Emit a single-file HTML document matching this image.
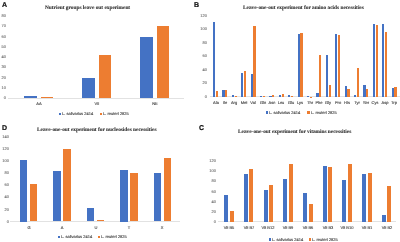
<!DOCTYPE html>
<html><head><meta charset="utf-8"><style>
html,body{margin:0;padding:0;background:#fff;}
body{width:400px;height:242px;position:relative;overflow:hidden;}
#w{position:absolute;left:0;top:0;width:400px;height:242px;}
.t{position:absolute;white-space:nowrap;line-height:1;text-rendering:geometricPrecision;will-change:transform;}
.r{position:absolute;}
</style></head><body><div id="w">
<div class="t" style="left:2.00px;top:4.50px;font-size:7px;color:#111;font-family:'Liberation Sans', sans-serif;font-weight:bold;transform:translate(0,-50%);-webkit-text-stroke:0.2px #111;">A</div>
<div class="t" style="left:45.30px;top:9.40px;font-size:5.34px;color:#303030;font-family:'Liberation Serif', serif;font-weight:bold;transform:translate(0,-50%);-webkit-text-stroke:0.1px #303030;">Nutrient groups leave out experiment</div>
<div class="t" style="left:6.00px;top:98.40px;font-size:4.0px;color:#6a6a6a;font-family:'Liberation Sans', sans-serif;font-weight:normal;transform:translate(-100%,-50%);-webkit-text-stroke:0.1px #6a6a6a;">0</div>
<div class="t" style="left:6.00px;top:88.09px;font-size:4.0px;color:#6a6a6a;font-family:'Liberation Sans', sans-serif;font-weight:normal;transform:translate(-100%,-50%);-webkit-text-stroke:0.1px #6a6a6a;">10</div>
<div class="t" style="left:6.00px;top:77.78px;font-size:4.0px;color:#6a6a6a;font-family:'Liberation Sans', sans-serif;font-weight:normal;transform:translate(-100%,-50%);-webkit-text-stroke:0.1px #6a6a6a;">20</div>
<div class="t" style="left:6.00px;top:67.47px;font-size:4.0px;color:#6a6a6a;font-family:'Liberation Sans', sans-serif;font-weight:normal;transform:translate(-100%,-50%);-webkit-text-stroke:0.1px #6a6a6a;">30</div>
<div class="t" style="left:6.00px;top:57.16px;font-size:4.0px;color:#6a6a6a;font-family:'Liberation Sans', sans-serif;font-weight:normal;transform:translate(-100%,-50%);-webkit-text-stroke:0.1px #6a6a6a;">40</div>
<div class="t" style="left:6.00px;top:46.85px;font-size:4.0px;color:#6a6a6a;font-family:'Liberation Sans', sans-serif;font-weight:normal;transform:translate(-100%,-50%);-webkit-text-stroke:0.1px #6a6a6a;">50</div>
<div class="t" style="left:6.00px;top:36.54px;font-size:4.0px;color:#6a6a6a;font-family:'Liberation Sans', sans-serif;font-weight:normal;transform:translate(-100%,-50%);-webkit-text-stroke:0.1px #6a6a6a;">60</div>
<div class="t" style="left:6.00px;top:26.23px;font-size:4.0px;color:#6a6a6a;font-family:'Liberation Sans', sans-serif;font-weight:normal;transform:translate(-100%,-50%);-webkit-text-stroke:0.1px #6a6a6a;">70</div>
<div class="t" style="left:6.00px;top:15.92px;font-size:4.0px;color:#6a6a6a;font-family:'Liberation Sans', sans-serif;font-weight:normal;transform:translate(-100%,-50%);-webkit-text-stroke:0.1px #6a6a6a;">80</div>
<div class="r" style="left:8.00px;top:97.70px;width:175.50px;height:0.70px;background:#e2e2e2"></div>
<div class="r" style="left:24.25px;top:96.34px;width:12.50px;height:2.06px;background:#4472c4"></div>
<div class="r" style="left:40.75px;top:97.16px;width:12.50px;height:1.24px;background:#ed7d31"></div>
<div class="t" style="left:38.75px;top:104.10px;font-size:4.0px;color:#505050;font-family:'Liberation Sans', sans-serif;font-weight:normal;transform:translate(-50%,-50%);-webkit-text-stroke:0.15px #505050;">AA</div>
<div class="r" style="left:82.25px;top:77.57px;width:12.50px;height:20.83px;background:#4472c4"></div>
<div class="r" style="left:98.75px;top:54.58px;width:12.50px;height:43.82px;background:#ed7d31"></div>
<div class="t" style="left:96.75px;top:104.10px;font-size:4.0px;color:#505050;font-family:'Liberation Sans', sans-serif;font-weight:normal;transform:translate(-50%,-50%);-webkit-text-stroke:0.15px #505050;">VII</div>
<div class="r" style="left:140.25px;top:36.85px;width:12.50px;height:61.55px;background:#4472c4"></div>
<div class="r" style="left:156.75px;top:25.61px;width:12.50px;height:72.79px;background:#ed7d31"></div>
<div class="t" style="left:154.75px;top:104.10px;font-size:4.0px;color:#505050;font-family:'Liberation Sans', sans-serif;font-weight:normal;transform:translate(-50%,-50%);-webkit-text-stroke:0.15px #505050;">NE</div>
<div class="r" style="left:58.90px;top:112.90px;width:2.30px;height:2.30px;background:#4472c4"></div>
<div class="t" style="left:62.30px;top:114.00px;font-size:4.0px;color:#505050;font-family:'Liberation Sans', sans-serif;font-weight:normal;transform:translate(0,-50%);-webkit-text-stroke:0.15px #505050;">L. salivarius 2414</div>
<div class="r" style="left:99.90px;top:112.90px;width:2.30px;height:2.30px;background:#ed7d31"></div>
<div class="t" style="left:103.30px;top:114.00px;font-size:4.0px;color:#505050;font-family:'Liberation Sans', sans-serif;font-weight:normal;transform:translate(0,-50%);-webkit-text-stroke:0.15px #505050;">L. reuteri 2825</div>
<div class="t" style="left:194.00px;top:4.80px;font-size:7px;color:#111;font-family:'Liberation Sans', sans-serif;font-weight:bold;transform:translate(0,-50%);-webkit-text-stroke:0.2px #111;">B</div>
<div class="t" style="left:243.40px;top:9.10px;font-size:5.34px;color:#303030;font-family:'Liberation Serif', serif;font-weight:bold;transform:translate(0,-50%);-webkit-text-stroke:0.1px #303030;">Leave-one-out experiment for amino acids necessities</div>
<div class="t" style="left:207.00px;top:96.90px;font-size:4.0px;color:#6a6a6a;font-family:'Liberation Sans', sans-serif;font-weight:normal;transform:translate(-100%,-50%);-webkit-text-stroke:0.1px #6a6a6a;">0</div>
<div class="t" style="left:207.00px;top:83.40px;font-size:4.0px;color:#6a6a6a;font-family:'Liberation Sans', sans-serif;font-weight:normal;transform:translate(-100%,-50%);-webkit-text-stroke:0.1px #6a6a6a;">20</div>
<div class="t" style="left:207.00px;top:69.90px;font-size:4.0px;color:#6a6a6a;font-family:'Liberation Sans', sans-serif;font-weight:normal;transform:translate(-100%,-50%);-webkit-text-stroke:0.1px #6a6a6a;">40</div>
<div class="t" style="left:207.00px;top:56.40px;font-size:4.0px;color:#6a6a6a;font-family:'Liberation Sans', sans-serif;font-weight:normal;transform:translate(-100%,-50%);-webkit-text-stroke:0.1px #6a6a6a;">60</div>
<div class="t" style="left:207.00px;top:42.90px;font-size:4.0px;color:#6a6a6a;font-family:'Liberation Sans', sans-serif;font-weight:normal;transform:translate(-100%,-50%);-webkit-text-stroke:0.1px #6a6a6a;">80</div>
<div class="t" style="left:207.00px;top:29.40px;font-size:4.0px;color:#6a6a6a;font-family:'Liberation Sans', sans-serif;font-weight:normal;transform:translate(-100%,-50%);-webkit-text-stroke:0.1px #6a6a6a;">100</div>
<div class="t" style="left:207.00px;top:15.90px;font-size:4.0px;color:#6a6a6a;font-family:'Liberation Sans', sans-serif;font-weight:normal;transform:translate(-100%,-50%);-webkit-text-stroke:0.1px #6a6a6a;">120</div>
<div class="r" style="left:210.00px;top:96.10px;width:190.00px;height:0.70px;background:#e2e2e2"></div>
<div class="r" style="left:212.95px;top:22.34px;width:2.30px;height:74.46px;background:#4472c4"></div>
<div class="r" style="left:215.75px;top:90.68px;width:2.30px;height:6.12px;background:#ed7d31"></div>
<div class="t" style="left:215.50px;top:102.60px;font-size:4.0px;color:#505050;font-family:'Liberation Sans', sans-serif;font-weight:normal;transform:translate(-50%,-50%);-webkit-text-stroke:0.15px #505050;">Ala</div>
<div class="r" style="left:222.35px;top:90.00px;width:2.30px;height:6.80px;background:#4472c4"></div>
<div class="r" style="left:225.15px;top:90.00px;width:2.30px;height:6.80px;background:#ed7d31"></div>
<div class="t" style="left:224.90px;top:102.60px;font-size:4.0px;color:#505050;font-family:'Liberation Sans', sans-serif;font-weight:normal;transform:translate(-50%,-50%);-webkit-text-stroke:0.15px #505050;">Ile</div>
<div class="r" style="left:231.75px;top:95.10px;width:2.30px;height:1.70px;background:#4472c4"></div>
<div class="r" style="left:234.55px;top:95.64px;width:2.30px;height:1.16px;background:#ed7d31"></div>
<div class="t" style="left:234.30px;top:102.60px;font-size:4.0px;color:#505050;font-family:'Liberation Sans', sans-serif;font-weight:normal;transform:translate(-50%,-50%);-webkit-text-stroke:0.15px #505050;">Arg</div>
<div class="r" style="left:241.15px;top:73.00px;width:2.30px;height:23.80px;background:#4472c4"></div>
<div class="r" style="left:243.95px;top:70.96px;width:2.30px;height:25.84px;background:#ed7d31"></div>
<div class="t" style="left:243.70px;top:102.60px;font-size:4.0px;color:#505050;font-family:'Liberation Sans', sans-serif;font-weight:normal;transform:translate(-50%,-50%);-webkit-text-stroke:0.15px #505050;">Met</div>
<div class="r" style="left:250.55px;top:74.36px;width:2.30px;height:22.44px;background:#4472c4"></div>
<div class="r" style="left:253.35px;top:25.74px;width:2.30px;height:71.06px;background:#ed7d31"></div>
<div class="t" style="left:253.10px;top:102.60px;font-size:4.0px;color:#505050;font-family:'Liberation Sans', sans-serif;font-weight:normal;transform:translate(-50%,-50%);-webkit-text-stroke:0.15px #505050;">Val</div>
<div class="r" style="left:259.95px;top:95.78px;width:2.30px;height:1.02px;background:#4472c4"></div>
<div class="r" style="left:262.75px;top:95.78px;width:2.30px;height:1.02px;background:#ed7d31"></div>
<div class="t" style="left:262.50px;top:102.60px;font-size:4.0px;color:#505050;font-family:'Liberation Sans', sans-serif;font-weight:normal;transform:translate(-50%,-50%);-webkit-text-stroke:0.15px #505050;">Gln</div>
<div class="r" style="left:269.35px;top:96.12px;width:2.30px;height:0.68px;background:#4472c4"></div>
<div class="r" style="left:272.15px;top:95.44px;width:2.30px;height:1.36px;background:#ed7d31"></div>
<div class="t" style="left:271.90px;top:102.60px;font-size:4.0px;color:#505050;font-family:'Liberation Sans', sans-serif;font-weight:normal;transform:translate(-50%,-50%);-webkit-text-stroke:0.15px #505050;">Asn</div>
<div class="r" style="left:278.75px;top:94.56px;width:2.30px;height:2.24px;background:#4472c4"></div>
<div class="r" style="left:281.55px;top:94.08px;width:2.30px;height:2.72px;background:#ed7d31"></div>
<div class="t" style="left:281.30px;top:102.60px;font-size:4.0px;color:#505050;font-family:'Liberation Sans', sans-serif;font-weight:normal;transform:translate(-50%,-50%);-webkit-text-stroke:0.15px #505050;">Leu</div>
<div class="r" style="left:288.15px;top:95.44px;width:2.30px;height:1.36px;background:#4472c4"></div>
<div class="r" style="left:290.95px;top:96.12px;width:2.30px;height:0.68px;background:#ed7d31"></div>
<div class="t" style="left:290.70px;top:102.60px;font-size:4.0px;color:#505050;font-family:'Liberation Sans', sans-serif;font-weight:normal;transform:translate(-50%,-50%);-webkit-text-stroke:0.15px #505050;">Glu</div>
<div class="r" style="left:297.55px;top:33.83px;width:2.30px;height:62.97px;background:#4472c4"></div>
<div class="r" style="left:300.35px;top:32.88px;width:2.30px;height:63.92px;background:#ed7d31"></div>
<div class="t" style="left:300.10px;top:102.60px;font-size:4.0px;color:#505050;font-family:'Liberation Sans', sans-serif;font-weight:normal;transform:translate(-50%,-50%);-webkit-text-stroke:0.15px #505050;">Lys</div>
<div class="r" style="left:306.95px;top:96.46px;width:2.30px;height:0.34px;background:#4472c4"></div>
<div class="r" style="left:309.75px;top:96.66px;width:2.30px;height:0.14px;background:#ed7d31"></div>
<div class="t" style="left:309.50px;top:102.60px;font-size:4.0px;color:#505050;font-family:'Liberation Sans', sans-serif;font-weight:normal;transform:translate(-50%,-50%);-webkit-text-stroke:0.15px #505050;">Thr</div>
<div class="r" style="left:316.35px;top:92.72px;width:2.30px;height:4.08px;background:#4472c4"></div>
<div class="r" style="left:319.15px;top:55.32px;width:2.30px;height:41.48px;background:#ed7d31"></div>
<div class="t" style="left:318.90px;top:102.60px;font-size:4.0px;color:#505050;font-family:'Liberation Sans', sans-serif;font-weight:normal;transform:translate(-50%,-50%);-webkit-text-stroke:0.15px #505050;">Phe</div>
<div class="r" style="left:325.75px;top:54.64px;width:2.30px;height:42.16px;background:#4472c4"></div>
<div class="r" style="left:328.55px;top:85.24px;width:2.30px;height:11.56px;background:#ed7d31"></div>
<div class="t" style="left:328.30px;top:102.60px;font-size:4.0px;color:#505050;font-family:'Liberation Sans', sans-serif;font-weight:normal;transform:translate(-50%,-50%);-webkit-text-stroke:0.15px #505050;">Gly</div>
<div class="r" style="left:335.15px;top:33.83px;width:2.30px;height:62.97px;background:#4472c4"></div>
<div class="r" style="left:337.95px;top:35.26px;width:2.30px;height:61.54px;background:#ed7d31"></div>
<div class="t" style="left:337.70px;top:102.60px;font-size:4.0px;color:#505050;font-family:'Liberation Sans', sans-serif;font-weight:normal;transform:translate(-50%,-50%);-webkit-text-stroke:0.15px #505050;">Pro</div>
<div class="r" style="left:344.55px;top:85.92px;width:2.30px;height:10.88px;background:#4472c4"></div>
<div class="r" style="left:347.35px;top:88.84px;width:2.30px;height:7.96px;background:#ed7d31"></div>
<div class="t" style="left:347.10px;top:102.60px;font-size:4.0px;color:#505050;font-family:'Liberation Sans', sans-serif;font-weight:normal;transform:translate(-50%,-50%);-webkit-text-stroke:0.15px #505050;">His</div>
<div class="r" style="left:353.95px;top:95.10px;width:2.30px;height:1.70px;background:#4472c4"></div>
<div class="r" style="left:356.75px;top:68.24px;width:2.30px;height:28.56px;background:#ed7d31"></div>
<div class="t" style="left:356.50px;top:102.60px;font-size:4.0px;color:#505050;font-family:'Liberation Sans', sans-serif;font-weight:normal;transform:translate(-50%,-50%);-webkit-text-stroke:0.15px #505050;">Tyr</div>
<div class="r" style="left:363.35px;top:84.56px;width:2.30px;height:12.24px;background:#4472c4"></div>
<div class="r" style="left:366.15px;top:88.84px;width:2.30px;height:7.96px;background:#ed7d31"></div>
<div class="t" style="left:365.90px;top:102.60px;font-size:4.0px;color:#505050;font-family:'Liberation Sans', sans-serif;font-weight:normal;transform:translate(-50%,-50%);-webkit-text-stroke:0.15px #505050;">Ser</div>
<div class="r" style="left:372.75px;top:24.18px;width:2.30px;height:72.62px;background:#4472c4"></div>
<div class="r" style="left:375.55px;top:24.86px;width:2.30px;height:71.94px;background:#ed7d31"></div>
<div class="t" style="left:375.30px;top:102.60px;font-size:4.0px;color:#505050;font-family:'Liberation Sans', sans-serif;font-weight:normal;transform:translate(-50%,-50%);-webkit-text-stroke:0.15px #505050;">Cys</div>
<div class="r" style="left:382.15px;top:24.18px;width:2.30px;height:72.62px;background:#4472c4"></div>
<div class="r" style="left:384.95px;top:32.20px;width:2.30px;height:64.60px;background:#ed7d31"></div>
<div class="t" style="left:384.70px;top:102.60px;font-size:4.0px;color:#505050;font-family:'Liberation Sans', sans-serif;font-weight:normal;transform:translate(-50%,-50%);-webkit-text-stroke:0.15px #505050;">Asp</div>
<div class="r" style="left:391.55px;top:87.96px;width:2.30px;height:8.84px;background:#4472c4"></div>
<div class="r" style="left:394.35px;top:86.80px;width:2.30px;height:10.00px;background:#ed7d31"></div>
<div class="t" style="left:394.10px;top:102.60px;font-size:4.0px;color:#505050;font-family:'Liberation Sans', sans-serif;font-weight:normal;transform:translate(-50%,-50%);-webkit-text-stroke:0.15px #505050;">Trp</div>
<div class="r" style="left:265.90px;top:111.40px;width:2.30px;height:2.30px;background:#4472c4"></div>
<div class="t" style="left:269.30px;top:112.50px;font-size:4.0px;color:#505050;font-family:'Liberation Sans', sans-serif;font-weight:normal;transform:translate(0,-50%);-webkit-text-stroke:0.15px #505050;">L. salivarius 2414</div>
<div class="r" style="left:307.30px;top:111.40px;width:2.30px;height:2.30px;background:#ed7d31"></div>
<div class="t" style="left:310.70px;top:112.50px;font-size:4.0px;color:#505050;font-family:'Liberation Sans', sans-serif;font-weight:normal;transform:translate(0,-50%);-webkit-text-stroke:0.15px #505050;">L. reuteri 2825</div>
<div class="t" style="left:1.50px;top:127.50px;font-size:7px;color:#111;font-family:'Liberation Sans', sans-serif;font-weight:bold;transform:translate(0,-50%);-webkit-text-stroke:0.2px #111;">D</div>
<div class="t" style="left:37.00px;top:131.00px;font-size:5.34px;color:#303030;font-family:'Liberation Serif', serif;font-weight:bold;transform:translate(0,-50%);-webkit-text-stroke:0.1px #303030;">Leave-one-out experiment for nucleosides necessities</div>
<div class="t" style="left:8.50px;top:221.70px;font-size:4.0px;color:#6a6a6a;font-family:'Liberation Sans', sans-serif;font-weight:normal;transform:translate(-100%,-50%);-webkit-text-stroke:0.1px #6a6a6a;">0</div>
<div class="t" style="left:8.50px;top:209.58px;font-size:4.0px;color:#6a6a6a;font-family:'Liberation Sans', sans-serif;font-weight:normal;transform:translate(-100%,-50%);-webkit-text-stroke:0.1px #6a6a6a;">20</div>
<div class="t" style="left:8.50px;top:197.46px;font-size:4.0px;color:#6a6a6a;font-family:'Liberation Sans', sans-serif;font-weight:normal;transform:translate(-100%,-50%);-webkit-text-stroke:0.1px #6a6a6a;">40</div>
<div class="t" style="left:8.50px;top:185.34px;font-size:4.0px;color:#6a6a6a;font-family:'Liberation Sans', sans-serif;font-weight:normal;transform:translate(-100%,-50%);-webkit-text-stroke:0.1px #6a6a6a;">60</div>
<div class="t" style="left:8.50px;top:173.22px;font-size:4.0px;color:#6a6a6a;font-family:'Liberation Sans', sans-serif;font-weight:normal;transform:translate(-100%,-50%);-webkit-text-stroke:0.1px #6a6a6a;">80</div>
<div class="t" style="left:8.50px;top:161.10px;font-size:4.0px;color:#6a6a6a;font-family:'Liberation Sans', sans-serif;font-weight:normal;transform:translate(-100%,-50%);-webkit-text-stroke:0.1px #6a6a6a;">100</div>
<div class="t" style="left:8.50px;top:148.98px;font-size:4.0px;color:#6a6a6a;font-family:'Liberation Sans', sans-serif;font-weight:normal;transform:translate(-100%,-50%);-webkit-text-stroke:0.1px #6a6a6a;">120</div>
<div class="t" style="left:8.50px;top:136.86px;font-size:4.0px;color:#6a6a6a;font-family:'Liberation Sans', sans-serif;font-weight:normal;transform:translate(-100%,-50%);-webkit-text-stroke:0.1px #6a6a6a;">140</div>
<div class="r" style="left:10.00px;top:220.80px;width:170.00px;height:0.70px;background:#e2e2e2"></div>
<div class="r" style="left:20.00px;top:159.75px;width:7.40px;height:61.75px;background:#4472c4"></div>
<div class="r" style="left:29.80px;top:184.02px;width:7.40px;height:37.48px;background:#ed7d31"></div>
<div class="t" style="left:28.60px;top:227.50px;font-size:4.0px;color:#505050;font-family:'Liberation Sans', sans-serif;font-weight:normal;transform:translate(-50%,-50%);-webkit-text-stroke:0.15px #505050;">G</div>
<div class="r" style="left:53.47px;top:170.99px;width:7.40px;height:50.51px;background:#4472c4"></div>
<div class="r" style="left:63.27px;top:148.94px;width:7.40px;height:72.56px;background:#ed7d31"></div>
<div class="t" style="left:62.07px;top:227.50px;font-size:4.0px;color:#505050;font-family:'Liberation Sans', sans-serif;font-weight:normal;transform:translate(-50%,-50%);-webkit-text-stroke:0.15px #505050;">A</div>
<div class="r" style="left:86.94px;top:208.22px;width:7.40px;height:13.28px;background:#4472c4"></div>
<div class="r" style="left:96.74px;top:220.02px;width:7.40px;height:1.48px;background:#ed7d31"></div>
<div class="t" style="left:95.54px;top:227.50px;font-size:4.0px;color:#505050;font-family:'Liberation Sans', sans-serif;font-weight:normal;transform:translate(-50%,-50%);-webkit-text-stroke:0.15px #505050;">U</div>
<div class="r" style="left:120.41px;top:170.25px;width:7.40px;height:51.25px;background:#4472c4"></div>
<div class="r" style="left:130.21px;top:173.03px;width:7.40px;height:48.47px;background:#ed7d31"></div>
<div class="t" style="left:129.01px;top:227.50px;font-size:4.0px;color:#505050;font-family:'Liberation Sans', sans-serif;font-weight:normal;transform:translate(-50%,-50%);-webkit-text-stroke:0.15px #505050;">T</div>
<div class="r" style="left:153.88px;top:173.03px;width:7.40px;height:48.47px;background:#4472c4"></div>
<div class="r" style="left:163.68px;top:158.21px;width:7.40px;height:63.29px;background:#ed7d31"></div>
<div class="t" style="left:162.48px;top:227.50px;font-size:4.0px;color:#505050;font-family:'Liberation Sans', sans-serif;font-weight:normal;transform:translate(-50%,-50%);-webkit-text-stroke:0.15px #505050;">X</div>
<div class="r" style="left:57.50px;top:235.60px;width:2.30px;height:2.30px;background:#4472c4"></div>
<div class="t" style="left:60.90px;top:236.70px;font-size:4.0px;color:#505050;font-family:'Liberation Sans', sans-serif;font-weight:normal;transform:translate(0,-50%);-webkit-text-stroke:0.15px #505050;">L. salivarius 2414</div>
<div class="r" style="left:97.90px;top:235.60px;width:2.30px;height:2.30px;background:#ed7d31"></div>
<div class="t" style="left:101.30px;top:236.70px;font-size:4.0px;color:#505050;font-family:'Liberation Sans', sans-serif;font-weight:normal;transform:translate(0,-50%);-webkit-text-stroke:0.15px #505050;">L. reuteri 2825</div>
<div class="t" style="left:199.00px;top:127.60px;font-size:7px;color:#111;font-family:'Liberation Sans', sans-serif;font-weight:bold;transform:translate(0,-50%);-webkit-text-stroke:0.2px #111;">C</div>
<div class="t" style="left:237.80px;top:133.00px;font-size:5.34px;color:#303030;font-family:'Liberation Serif', serif;font-weight:bold;transform:translate(0,-50%);-webkit-text-stroke:0.1px #303030;">Leave-one-out experiment for vitamins necessities</div>
<div class="t" style="left:216.20px;top:222.40px;font-size:4.0px;color:#6a6a6a;font-family:'Liberation Sans', sans-serif;font-weight:normal;transform:translate(-100%,-50%);-webkit-text-stroke:0.1px #6a6a6a;">0</div>
<div class="t" style="left:216.20px;top:212.10px;font-size:4.0px;color:#6a6a6a;font-family:'Liberation Sans', sans-serif;font-weight:normal;transform:translate(-100%,-50%);-webkit-text-stroke:0.1px #6a6a6a;">20</div>
<div class="t" style="left:216.20px;top:201.80px;font-size:4.0px;color:#6a6a6a;font-family:'Liberation Sans', sans-serif;font-weight:normal;transform:translate(-100%,-50%);-webkit-text-stroke:0.1px #6a6a6a;">40</div>
<div class="t" style="left:216.20px;top:191.50px;font-size:4.0px;color:#6a6a6a;font-family:'Liberation Sans', sans-serif;font-weight:normal;transform:translate(-100%,-50%);-webkit-text-stroke:0.1px #6a6a6a;">60</div>
<div class="t" style="left:216.20px;top:181.20px;font-size:4.0px;color:#6a6a6a;font-family:'Liberation Sans', sans-serif;font-weight:normal;transform:translate(-100%,-50%);-webkit-text-stroke:0.1px #6a6a6a;">80</div>
<div class="t" style="left:216.20px;top:170.90px;font-size:4.0px;color:#6a6a6a;font-family:'Liberation Sans', sans-serif;font-weight:normal;transform:translate(-100%,-50%);-webkit-text-stroke:0.1px #6a6a6a;">100</div>
<div class="t" style="left:216.20px;top:160.60px;font-size:4.0px;color:#6a6a6a;font-family:'Liberation Sans', sans-serif;font-weight:normal;transform:translate(-100%,-50%);-webkit-text-stroke:0.1px #6a6a6a;">120</div>
<div class="r" style="left:218.00px;top:221.20px;width:178.00px;height:0.70px;background:#e2e2e2"></div>
<div class="r" style="left:224.25px;top:194.99px;width:4.00px;height:26.91px;background:#4472c4"></div>
<div class="r" style="left:229.75px;top:211.14px;width:4.00px;height:10.76px;background:#ed7d31"></div>
<div class="t" style="left:229.00px;top:227.80px;font-size:4.0px;color:#505050;font-family:'Liberation Sans', sans-serif;font-weight:normal;transform:translate(-50%,-50%);-webkit-text-stroke:0.15px #505050;">Vit B5</div>
<div class="r" style="left:243.95px;top:173.88px;width:4.00px;height:48.02px;background:#4472c4"></div>
<div class="r" style="left:249.45px;top:168.91px;width:4.00px;height:52.99px;background:#ed7d31"></div>
<div class="t" style="left:248.70px;top:227.80px;font-size:4.0px;color:#505050;font-family:'Liberation Sans', sans-serif;font-weight:normal;transform:translate(-50%,-50%);-webkit-text-stroke:0.15px #505050;">Vit B7</div>
<div class="r" style="left:263.65px;top:189.92px;width:4.00px;height:31.98px;background:#4472c4"></div>
<div class="r" style="left:269.15px;top:184.90px;width:4.00px;height:37.00px;background:#ed7d31"></div>
<div class="t" style="left:268.40px;top:227.80px;font-size:4.0px;color:#505050;font-family:'Liberation Sans', sans-serif;font-weight:normal;transform:translate(-50%,-50%);-webkit-text-stroke:0.15px #505050;">Vit B12</div>
<div class="r" style="left:283.35px;top:179.47px;width:4.00px;height:42.44px;background:#4472c4"></div>
<div class="r" style="left:288.85px;top:163.94px;width:4.00px;height:57.96px;background:#ed7d31"></div>
<div class="t" style="left:288.10px;top:227.80px;font-size:4.0px;color:#505050;font-family:'Liberation Sans', sans-serif;font-weight:normal;transform:translate(-50%,-50%);-webkit-text-stroke:0.15px #505050;">Vit B9</div>
<div class="r" style="left:303.05px;top:193.13px;width:4.00px;height:28.77px;background:#4472c4"></div>
<div class="r" style="left:308.55px;top:204.15px;width:4.00px;height:17.75px;background:#ed7d31"></div>
<div class="t" style="left:307.80px;top:227.80px;font-size:4.0px;color:#505050;font-family:'Liberation Sans', sans-serif;font-weight:normal;transform:translate(-50%,-50%);-webkit-text-stroke:0.15px #505050;">Vit B6</div>
<div class="r" style="left:322.75px;top:166.17px;width:4.00px;height:55.73px;background:#4472c4"></div>
<div class="r" style="left:328.25px;top:166.89px;width:4.00px;height:55.01px;background:#ed7d31"></div>
<div class="t" style="left:327.50px;top:227.80px;font-size:4.0px;color:#505050;font-family:'Liberation Sans', sans-serif;font-weight:normal;transform:translate(-50%,-50%);-webkit-text-stroke:0.15px #505050;">Vit B3</div>
<div class="r" style="left:342.45px;top:180.40px;width:4.00px;height:41.50px;background:#4472c4"></div>
<div class="r" style="left:347.95px;top:164.41px;width:4.00px;height:57.49px;background:#ed7d31"></div>
<div class="t" style="left:347.20px;top:227.80px;font-size:4.0px;color:#505050;font-family:'Liberation Sans', sans-serif;font-weight:normal;transform:translate(-50%,-50%);-webkit-text-stroke:0.15px #505050;">Vit B10</div>
<div class="r" style="left:362.15px;top:174.39px;width:4.00px;height:47.51px;background:#4472c4"></div>
<div class="r" style="left:367.65px;top:172.89px;width:4.00px;height:49.01px;background:#ed7d31"></div>
<div class="t" style="left:366.90px;top:227.80px;font-size:4.0px;color:#505050;font-family:'Liberation Sans', sans-serif;font-weight:normal;transform:translate(-50%,-50%);-webkit-text-stroke:0.15px #505050;">Vit B1</div>
<div class="r" style="left:381.85px;top:214.76px;width:4.00px;height:7.14px;background:#4472c4"></div>
<div class="r" style="left:387.35px;top:185.68px;width:4.00px;height:36.22px;background:#ed7d31"></div>
<div class="t" style="left:386.60px;top:227.80px;font-size:4.0px;color:#505050;font-family:'Liberation Sans', sans-serif;font-weight:normal;transform:translate(-50%,-50%);-webkit-text-stroke:0.15px #505050;">Vit B2</div>
<div class="r" style="left:268.90px;top:238.40px;width:2.30px;height:2.30px;background:#4472c4"></div>
<div class="t" style="left:272.30px;top:239.50px;font-size:4.0px;color:#505050;font-family:'Liberation Sans', sans-serif;font-weight:normal;transform:translate(0,-50%);-webkit-text-stroke:0.15px #505050;">L. salivarius 2414</div>
<div class="r" style="left:308.90px;top:238.40px;width:2.30px;height:2.30px;background:#ed7d31"></div>
<div class="t" style="left:312.30px;top:239.50px;font-size:4.0px;color:#505050;font-family:'Liberation Sans', sans-serif;font-weight:normal;transform:translate(0,-50%);-webkit-text-stroke:0.15px #505050;">L. reuteri 2825</div>
</div></body></html>
